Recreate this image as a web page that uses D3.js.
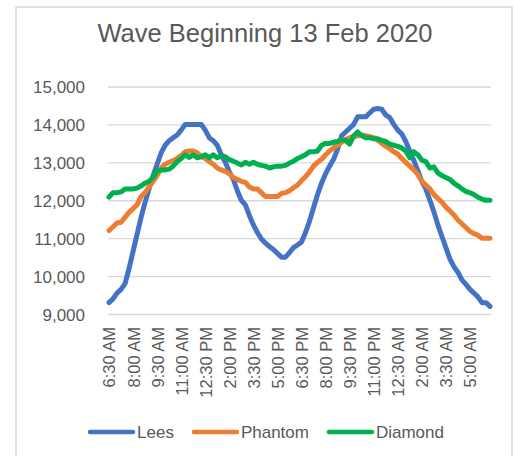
<!DOCTYPE html>
<html>
<head>
<meta charset="utf-8">
<script src="https://cdn.jsdelivr.net/npm/d3@7"></script>
<style>
  body { margin: 0; background: #fff; }
  svg { display: block; font-family: "Liberation Sans", Arial, sans-serif; }
  .axis path, .axis line { stroke: none; }
  .grid line { stroke: #d9d9d9; stroke-width: 1.3; }
  .grid path { stroke: none; }
</style>
</head>
<body>
<div id="chart"></div>
<script>
// chart title
var title = "Wave Beginning 13 Feb 2020";
// series names and colours (Excel default palette)
var seriesNames = ["Lees", "Phantom", "Diamond"];
var seriesColors = ["#4472c4", "#ed7d31", "#00b050"];
// x axis labels, one every 6th reading (15 min readings, 96 of them)
var tickLabels = ["6:30 AM", "8:00 AM", "9:30 AM", "11:00 AM", "12:30 PM", "2:00 PM", "3:30 PM", "5:00 PM",
  "6:30 PM", "8:00 PM", "9:30 PM", "11:00 PM", "12:30 AM", "2:00 AM", "3:30 AM", "5:00 AM"];
var yTicks = [9000, 10000, 11000, 12000, 13000, 14000, 15000];

// values
var lees = [
  9300, 9400, 9550, 9650, 9800, 10200, 10650, 11100, 11550, 11950,
  12300, 12650, 12950, 13250, 13450, 13570, 13650, 13720, 13850, 14000,
  14000, 14000, 14000, 14000, 13850, 13650, 13570, 13450, 13200, 13000,
  12750, 12550, 12250, 12000, 11880, 11600, 11350, 11150, 10980, 10870,
  10780, 10700, 10600, 10500, 10500, 10620, 10750, 10820, 10900, 11150,
  11450, 11800, 12150, 12450, 12700, 12900, 13080, 13350, 13700, 13800,
  13900, 14000, 14200, 14200, 14200, 14300, 14400, 14420, 14400, 14250,
  14180, 14000, 13850, 13750, 13550, 13300, 13050, 12780, 12500, 12300,
  12000, 11700, 11350, 11050, 10750, 10450, 10250, 10100, 9900, 9780,
  9650, 9550, 9450, 9300, 9300, 9200
];
var phantom = [
  11200, 11300, 11400, 11420, 11550, 11680, 11780, 11880, 12100, 12200,
  12350, 12500, 12650, 12850, 12950, 13000, 13050, 13100, 13180, 13280,
  13300, 13300, 13250, 13150, 13100, 13020, 12950, 12850, 12800, 12760,
  12700, 12600, 12550, 12500, 12470, 12350, 12300, 12300, 12200, 12100,
  12100, 12100, 12100, 12180, 12200, 12250, 12330, 12400, 12520, 12620,
  12750, 12900, 13000, 13080, 13200, 13300, 13380, 13450, 13530, 13600,
  13650, 13680, 13700, 13720, 13700, 13680, 13650, 13580, 13500, 13420,
  13360, 13280, 13220, 13100, 13000, 12900, 12800, 12680, 12500, 12400,
  12300, 12150, 12050, 11950, 11820, 11720, 11610, 11480, 11380, 11280,
  11180, 11120, 11080, 11000, 11000, 11000
];
var diamond = [
  12080, 12200, 12200, 12220, 12300, 12300, 12300, 12320, 12380, 12450,
  12500, 12600, 12780, 12800, 12800, 12820, 12900, 13020, 13100, 13200,
  13130, 13200, 13120, 13150, 13200, 13120, 13200, 13120, 13170, 13150,
  13070, 13030, 12980, 12930, 13000, 12950, 13000, 12950, 12920, 12900,
  12850, 12880, 12900, 12900, 12920, 12980, 13030, 13100, 13150, 13200,
  13280, 13280, 13300, 13450, 13500, 13500, 13530, 13550, 13600, 13580,
  13480, 13700, 13800, 13700, 13650, 13650, 13620, 13620, 13580, 13550,
  13480, 13450, 13420, 13380, 13300, 13120, 13280, 13200, 13060, 13020,
  12850, 12880, 12720, 12650, 12600, 12550, 12450, 12380, 12300, 12230,
  12200, 12150, 12080, 12030, 12000, 12000
];
var series = [lees, phantom, diamond];

var W = 514, H = 456;
// plot area edges in page pixels
var margin = { top: 86.5, right: 24, bottom: 142, left: 109 };
var width = W - margin.left - margin.right;
var height = H - margin.top - margin.bottom;

var svg = d3.select("#chart").append("svg").attr("width", W).attr("height", H);

// outer chart border
svg.append("rect").attr("x", 16).attr("y", 7).attr("width", 496).attr("height", 470)
  .attr("fill", "none").attr("stroke", "#d9d9d9").attr("stroke-width", 1.5);

svg.append("text").attr("x", 265).attr("y", 42).attr("text-anchor", "middle")
  .style("font-size", "25.5px").style("fill", "#595959").text(title);

var g = svg.append("g").attr("transform", "translate(" + margin.left + "," + margin.top + ")");

var x = d3.scaleLinear().domain([0, lees.length - 1]).range([0, width]);
var y = d3.scaleLinear().domain([9000, 15000]).range([height, 0]);

// horizontal gridlines
g.append("g").attr("class", "grid").attr("transform", "translate(" + (width + 1) + ",0)")
  .call(d3.axisLeft(y).tickValues(yTicks).tickSize(width + 2).tickFormat(""));

// y axis labels
var yAxis = g.append("g").attr("class", "axis").attr("transform", "translate(-24,0)")
  .call(d3.axisLeft(y).tickValues(yTicks).tickSize(0).tickPadding(0).tickFormat(d3.format(",")));
yAxis.selectAll("text").style("font-size", "17px").style("fill", "#595959").attr("dy", "0.36em");

// x axis labels, rotated
var xAxis = g.append("g").attr("class", "axis").attr("transform", "translate(0," + height + ")")
  .call(d3.axisBottom(x).tickValues(d3.range(0, lees.length, 6)).tickSize(0)
    .tickFormat(function (d, i) { return tickLabels[i]; }));
xAxis.selectAll("text").style("font-size", "16.5px").style("fill", "#595959")
  .attr("text-anchor", "end").attr("transform", "rotate(-90)")
  .attr("x", -13).attr("y", 0).attr("dy", "0.36em");

// the three lines
var line = d3.line().x(function (d, i) { return x(i); }).y(function (d) { return y(d); });
g.selectAll(".series").data(series).enter().append("path").attr("class", "series")
  .attr("d", line).attr("fill", "none")
  .attr("stroke", function (d, i) { return seriesColors[i]; })
  .attr("stroke-width", 5).attr("stroke-linejoin", "round").attr("stroke-linecap", "round");

// legend, centred under the chart
var legend = svg.append("g").attr("class", "legend");
var items = legend.selectAll("g").data(seriesNames).enter().append("g");
items.append("line").attr("x1", 0).attr("x2", 43).attr("y1", 0).attr("y2", 0)
  .attr("stroke", function (d, i) { return seriesColors[i]; })
  .attr("stroke-width", 4.5).attr("stroke-linecap", "round");
items.append("text").attr("x", 47).attr("y", 0).attr("dy", "0.36em")
  .style("font-size", "17px").style("fill", "#595959").text(function (d) { return d; });
var pos = 0;
items.each(function () {
  var w = 47 + this.querySelector("text").getComputedTextLength();
  d3.select(this).attr("transform", "translate(" + pos + ",0)");
  pos += w + 20;
});
legend.attr("transform", "translate(" + (267 - (pos - 20) / 2) + ",432)");
</script>
</body>
</html>
